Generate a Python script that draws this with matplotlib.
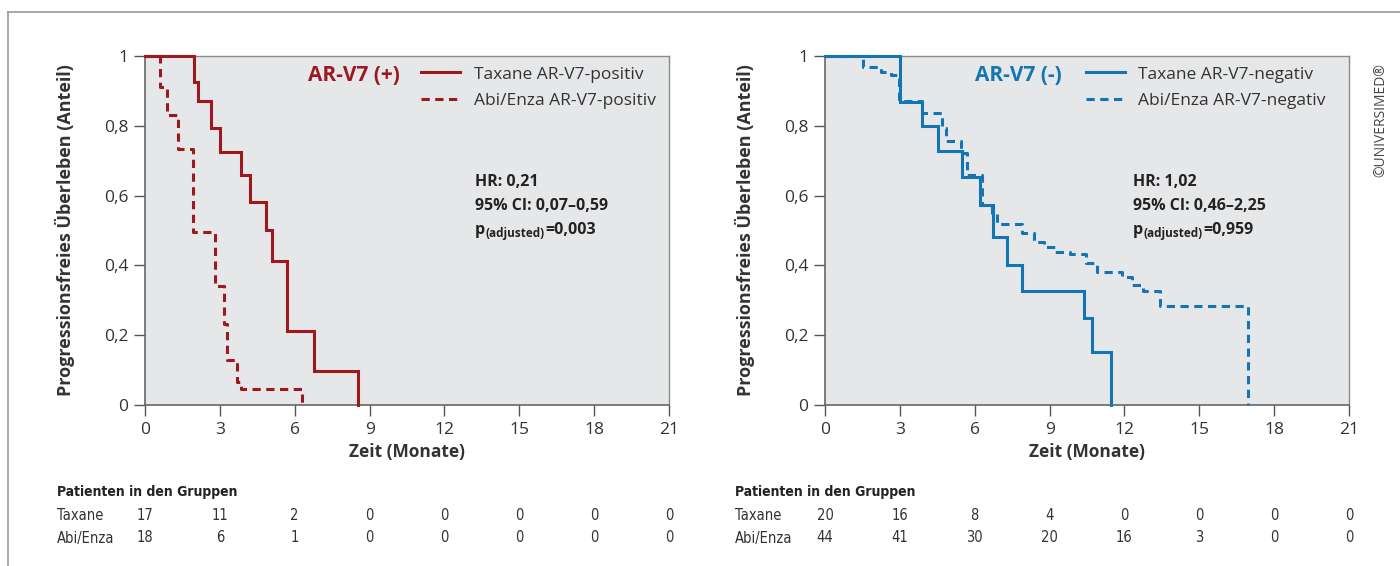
#!/usr/bin/env python3
"""Kaplan-Meier PFS nach AR-V7-Status."""

import matplotlib
matplotlib.use("Agg")
import matplotlib.pyplot as plt
from matplotlib.lines import Line2D

# AR-V7 positiv
pos_tax_t = [0, 1.98, 2.14, 2.65, 3.0, 3.86, 4.21, 4.85, 5.08, 5.68, 6.77, 8.52]
pos_tax_s = [1, 0.926, 0.872, 0.795, 0.724, 0.659, 0.581, 0.50, 0.414, 0.212, 0.098, 0]
pos_abi_t = [0, 0.60, 0.87, 1.31, 1.94, 2.81, 3.17, 3.30, 3.67, 3.84, 6.31]
pos_abi_s = [1, 0.912, 0.831, 0.733, 0.497, 0.342, 0.232, 0.129, 0.067, 0.045, 0]

# AR-V7 negativ
neg_tax_t = [0, 3.01, 3.90, 4.52, 5.48, 6.21, 6.75, 7.31, 7.88, 10.39, 10.69, 11.46]
neg_tax_s = [1, 0.869, 0.80, 0.728, 0.652, 0.573, 0.482, 0.401, 0.328, 0.248, 0.153, 0]
neg_abi_t = [0, 1.54, 2.24, 2.65, 2.95, 3.90, 4.70, 4.84, 5.44, 5.70, 6.28, 6.68, 6.88,
             7.88, 8.38, 8.78, 9.22, 9.82, 10.46, 10.89, 11.89, 12.29, 12.76, 13.43, 16.97]
neg_abi_s = [1, 0.968, 0.955, 0.946, 0.872, 0.836, 0.793, 0.756, 0.721, 0.659, 0.573, 0.549,
             0.519, 0.492, 0.468, 0.453, 0.439, 0.432, 0.408, 0.382, 0.368, 0.344, 0.328,
             0.285, 0]

risk_times = [0, 3, 6, 9, 12, 15, 18, 21]
pos_risk_tax = [17, 11, 2, 0, 0, 0, 0, 0]
pos_risk_abi = [18, 6, 1, 0, 0, 0, 0, 0]
neg_risk_tax = [20, 16, 8, 4, 0, 0, 0, 0]
neg_risk_abi = [44, 41, 30, 20, 16, 3, 0, 0]

yticks = [0, 0.2, 0.4, 0.6, 0.8, 1]
ytick_labels = ["0", "0,2", "0,4", "0,6", "0,8", "1"]

RED = "#9c1a1f"
BLUE = "#1375b4"
TXT = "#333333"
DARK = "#222222"
BG = "#e6e7e9"
COND = dict(family=["DejaVu Sans"], stretch="condensed")

plt.rcParams["font.family"] = ["Open Sans", "DejaVu Sans"]

fig = plt.figure(figsize=(14, 5.66), dpi=100)

# grauer Rahmen oben und links
fig.add_artist(Line2D([8 / 1400, 1], [1 - 12 / 566] * 2, color="#9a9a9a", lw=1.2))
fig.add_artist(Line2D([8 / 1400] * 2, [0, 1 - 12 / 566], color="#9a9a9a", lw=1.2))

panels = [
    dict(left=145, color=RED, title="AR-V7 (+)", title_x=0.487, leg_x=0.503, stat_x=0.63,
         series=[(pos_tax_t, pos_tax_s, "Taxane AR-V7-positiv", "-"),
                 (pos_abi_t, pos_abi_s, "Abi/Enza AR-V7-positiv", "--")],
         hr="HR: 0,21", ci="95% CI: 0,07\u20130,59", p="=0,003",
         risk=(pos_risk_tax, pos_risk_abi), table_x=57),
    dict(left=825, color=BLUE, title="AR-V7 (-)", title_x=0.452, leg_x=0.474, stat_x=0.588,
         series=[(neg_tax_t, neg_tax_s, "Taxane AR-V7-negativ", "-"),
                 (neg_abi_t, neg_abi_s, "Abi/Enza AR-V7-negativ", "--")],
         hr="HR: 1,02", ci="95% CI: 0,46\u20132,25", p="=0,959",
         risk=(neg_risk_tax, neg_risk_abi), table_x=735),
]

for pn in panels:
    ax = fig.add_axes([pn["left"] / 1400, 1 - 405 / 566, 524 / 1400, 349 / 566])
    ax.set_facecolor(BG)
    handles = []
    for t, s, lab, ls in pn["series"]:
        line, = ax.step(t, s, where="post", color=pn["color"], lw=2.2, label=lab,
                        solid_joinstyle="miter", clip_on=False)
        if ls == "--":
            line.set_linestyle((0, (2.7, 1.8)))
            line.set_zorder(3)
        else:
            line.set_zorder(4)
        handles.append(line)
    ax.set_xlim(0, 21)
    ax.set_ylim(0, 1)
    ax.set_xticks(risk_times)
    ax.set_yticks(yticks)
    ax.set_yticklabels(ytick_labels)
    ax.tick_params(length=8, width=1, color="#555555", labelsize=12.5,
                   labelcolor=TXT, pad=4)
    for side in ["left", "bottom"]:
        ax.spines[side].set_color("#666666")
        ax.spines[side].set_linewidth(1.2)
    for side in ["top", "right"]:
        ax.spines[side].set_color("#8a8a8a")
        ax.spines[side].set_linewidth(1)
    ax.set_xlabel("Zeit (Monate)", fontsize=12.5, fontweight="bold", color=TXT, labelpad=4)
    ax.set_ylabel("Progressionsfreies \u00dcberleben (Anteil)", fontsize=13,
                  fontweight="bold", color=TXT, labelpad=21)

    ax.text(pn["title_x"], 0.943, pn["title"], transform=ax.transAxes, ha="right",
            va="center", fontsize=15, fontweight="bold", color=pn["color"])
    leg = ax.legend(handles=handles, loc="upper left", bbox_to_anchor=(pn["leg_x"], 1.005),
                    frameon=False, fontsize=12.5, handlelength=2.25, handletextpad=0.8,
                    labelspacing=0.58, borderaxespad=0.3)
    for txt in leg.get_texts():
        txt.set_color(TXT)

    ax.text(pn["stat_x"], 0.639, pn["hr"], transform=ax.transAxes, va="center",
            fontsize=11.5, fontweight="bold", color=DARK)
    ax.text(pn["stat_x"], 0.570, pn["ci"], transform=ax.transAxes, va="center",
            fontsize=11.5, fontweight="bold", color=DARK)
    tp = ax.text(pn["stat_x"], 0.501, "p", transform=ax.transAxes, va="center",
                 fontsize=11.5, fontweight="bold", color=DARK)
    tsub = ax.annotate("(adjusted)", xy=(1, 0), xycoords=tp, xytext=(0.5, -1.5),
                       textcoords="offset points", va="bottom", ha="left",
                       fontsize=8.5, fontweight="bold", color=DARK)
    ax.annotate(pn["p"], xy=(1, 0), xycoords=(tsub, tp), xytext=(0.5, 0),
                textcoords="offset points", va="bottom", ha="left",
                fontsize=11.5, fontweight="bold", color=DARK)

    # Patienten unter Risiko
    fig.text(pn["table_x"] / 1400, 1 - 492 / 566, "Patienten in den Gruppen",
             fontsize=10, fontweight="bold", color=DARK, va="center", **COND)
    for row, (name, vals) in enumerate(zip(["Taxane", "Abi/Enza"], pn["risk"])):
        yy = 1 - (516 + row * 22) / 566
        fig.text(pn["table_x"] / 1400, yy, name, fontsize=10.5, color=TXT,
                 va="center", **COND)
        for tx, v in zip(risk_times, vals):
            ax.text(tx, (405 - 516 - row * 22) / 349, str(v),
                    transform=ax.get_xaxis_transform(), ha="center", va="center",
                    fontsize=10.5, color=TXT, **COND)

fig.text(1381 / 1400, 1 - 120 / 566, "\u00a9UNIVERSIMED\u00ae", rotation=90, ha="center",
         va="center", fontsize=10, color="#444444")

fig.savefig("out.png", dpi=100)
